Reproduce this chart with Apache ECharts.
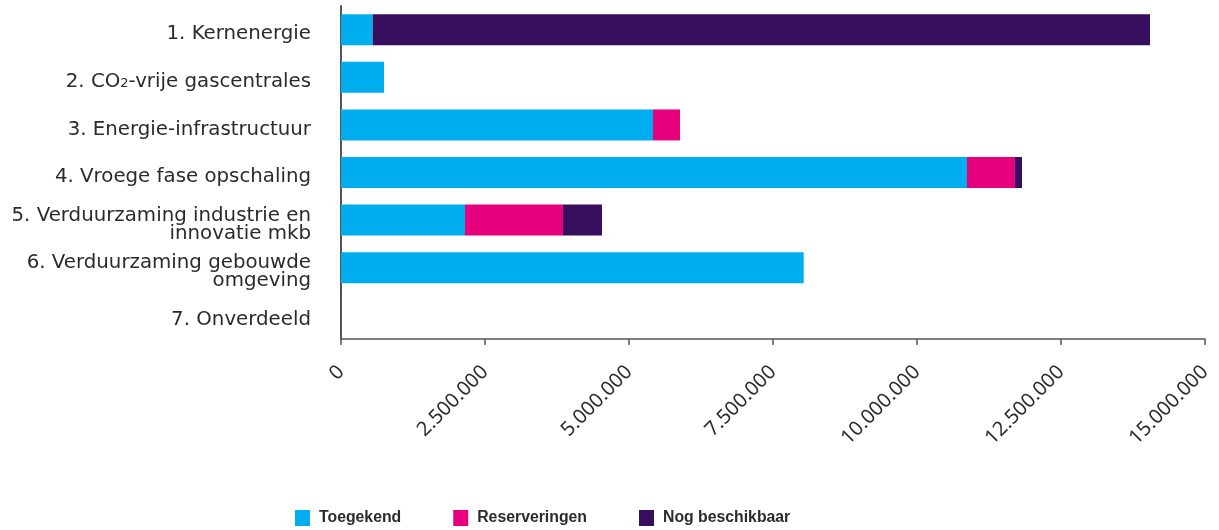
<!DOCTYPE html>
<html>
<head>
<meta charset="utf-8">
<script src="https://cdn.jsdelivr.net/npm/echarts@6/dist/echarts.min.js"></script>
<style>html,body{margin:0;padding:0;background:#fff;}#c{width:1219px;height:530px;}</style>
</head>
<body>
<div id="c"></div>
<script>
var categories = [
  '1. Kernenergie',
  '2. CO2-vrije gascentrales',
  '3. Energie-infrastructuur',
  '4. Vroege fase opschaling',
  '5. Verduurzaming industrie en\ninnovatie mkb',
  '6. Verduurzaming gebouwde\nomgeving',
  '7. Onverdeeld'
];
var toegekend      = [550000, 747000, 5417000, 10868000, 2153000, 8033000, 0];
var reserveringen  = [0, 0, 469000, 833000, 1701000, 0, 0];
var nogBeschikbaar = [13495000, 0, 0, 122000, 677000, 0, 0];
var xTicks = [0, 2500000, 5000000, 7500000, 10000000, 12500000, 15000000];

function fmt(v) {
  return String(Math.round(v)).replace(/\B(?=(\d{3})+(?!\d))/g, '.');
}

var labelFont = 'DejaVu Sans';
var chart = echarts.init(document.getElementById('c'));
chart.setOption({
  animation: false,
  grid: { left: 341, right: 14, top: 6, bottom: 191, containLabel: false },
  legend: {
    left: 295, top: 510, padding: 0,
    itemWidth: 15, itemHeight: 16, itemGap: 52,
    icon: 'rect',
    textStyle: { fontFamily: 'Liberation Sans', fontWeight: 'bold', fontSize: 15.8, color: '#2b2b2b', padding: [1, 0, 0, 4] },
    data: ['Toegekend', 'Reserveringen', 'Nog beschikbaar']
  },
  xAxis: {
    type: 'value', min: 0, max: 15000000, interval: 2500000,
    splitLine: { show: false },
    axisLine: { show: true, lineStyle: { color: '#555', width: 1.5 } },
    axisTick: { show: true, length: 6, lineStyle: { color: '#555', width: 1.5 } },
    axisLabel: {
      rotate: 45, margin: 30, fontSize: 20, fontFamily: 'Noto Sans', color: '#2b2b2b',
      formatter: function (v) { return fmt(v); }
    }
  },
  yAxis: {
    type: 'category', inverse: true, data: categories,
    axisLine: { show: true, lineStyle: { color: '#555', width: 2 } },
    axisTick: { show: false },
    axisLabel: {
      margin: 30, fontSize: 19.8, fontFamily: labelFont, color: '#2b2b2b', align: 'right', lineHeight: 18,
      padding: [9, 0, 0, 0],
      formatter: function (v) {
        if (v.indexOf('CO2') >= 0) {
          return '{a|2. CO}{s|2}{a|-vrije gascentrales}';
        }
        return v;
      },
      rich: {
        a: { fontSize: 19.8, fontFamily: labelFont, color: '#2b2b2b', lineHeight: 18 },
        s: { fontSize: 13, fontFamily: labelFont, color: '#2b2b2b', lineHeight: 18, padding: [4, 0, 0, 0] }
      }
    }
  },
  series: [
    { name: 'Toegekend', type: 'bar', stack: 't', barWidth: 31, data: toegekend, itemStyle: { color: '#00AEEF' } },
    { name: 'Reserveringen', type: 'bar', stack: 't', barWidth: 31, data: reserveringen, itemStyle: { color: '#E6007E' } },
    { name: 'Nog beschikbaar', type: 'bar', stack: 't', barWidth: 31, data: nogBeschikbaar, itemStyle: { color: '#370D5E' } }
  ]
});
</script>
</body>
</html>
